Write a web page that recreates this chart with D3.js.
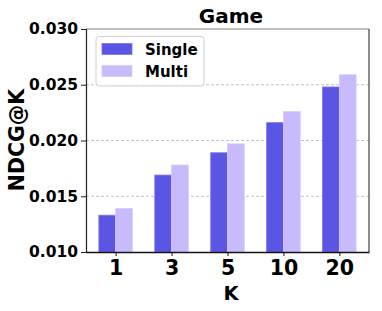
<!DOCTYPE html>
<html><head><meta charset="utf-8">
<script src="https://cdn.jsdelivr.net/npm/d3@7/dist/d3.min.js"></script>
<style>body{margin:0;background:#fff}svg{display:block}text{font-family:"DejaVu Sans",sans-serif;font-weight:bold}</style>
</head><body>
<script>
const categories = ["1","3","5","10","20"];
const singleValues = [0.0133,0.0169,0.0189,0.0216,0.0248];
const multiValues = [0.0139,0.0178,0.0197,0.0226,0.0259];
const seriesNames = ["Single","Multi"];
const yTicks = [0.010,0.015,0.020,0.025,0.030];
const colors = ["#5B55E4","#C8BAFC"];
const title = "Game", xLabel = "K", yLabel = "NDCG@K";

const W=382,H=311;
const m={left:86,right:369,top:29,bottom:252};
const svg=d3.select("body").append("svg").attr("width",W).attr("height",H);

const x=d3.scaleLinear().domain([-0.53,4.53]).range([m.left,m.right]);
const y=d3.scaleLinear().domain([0.010,0.030]).range([m.bottom,m.top]);
const bw=0.3;

// grid
svg.append("g").selectAll("line").data(yTicks.filter(t=>t>0.0101&&t<0.0299)).join("line")
  .attr("x1",m.left).attr("x2",m.right).attr("y1",d=>y(d)).attr("y2",d=>y(d))
  .attr("stroke","#b5b5b5").attr("stroke-width",0.8).attr("stroke-dasharray","3,2");

const series=[singleValues,multiValues];
series.forEach((vals,si)=>{
  svg.append("g").selectAll("rect").data(vals).join("rect")
    .attr("x",(d,i)=>x(i+(si===0?-bw:0)))
    .attr("width",x(bw)-x(0))
    .attr("y",d=>y(d)).attr("height",d=>y(0.010)-y(d))
    .attr("fill",colors[si])
    .attr("stroke",si===0?"#7a74ec":"#d6ccfd").attr("stroke-width",0.8);
});

// spines
svg.append("line").attr("x1",m.left).attr("x2",m.right).attr("y1",m.top).attr("y2",m.top).attr("stroke","#808080").attr("stroke-width",1.2);
svg.append("line").attr("x1",m.right).attr("x2",m.right).attr("y1",m.top).attr("y2",m.bottom).attr("stroke","#404040").attr("stroke-width",1.2);

// axes
const yAxis=svg.append("g").attr("transform",`translate(${m.left},0)`)
  .call(d3.axisLeft(y).tickValues(yTicks).tickFormat(d3.format(".3f")).tickSize(5).tickPadding(3));
yAxis.selectAll("text").style("font-size","15.5px").attr("fill","#000");
yAxis.select(".domain").attr("stroke","#222").attr("stroke-width",1.2);
yAxis.selectAll(".tick line").attr("stroke","#222");

const xAxis=svg.append("g").attr("transform",`translate(0,${m.bottom})`)
  .call(d3.axisBottom(x).tickValues(d3.range(categories.length)).tickFormat(i=>categories[i]).tickSize(4).tickSizeOuter(0).tickPadding(4));
xAxis.selectAll("text").style("font-size","20.5px").attr("fill","#000");
xAxis.select(".domain").attr("stroke","#111").attr("stroke-width",1.4);
xAxis.selectAll(".tick line").attr("stroke","#111");

svg.append("text").attr("x",231).attr("y",23).attr("text-anchor","middle").style("font-size","20px").text(title);
svg.append("text").attr("x",231).attr("y",300).attr("text-anchor","middle").style("font-size","19.5px").text(xLabel);
svg.append("text").attr("transform","translate(24,140) rotate(-90)").attr("text-anchor","middle").style("font-size","20.5px").text(yLabel);

// legend
const lg=svg.append("g");
lg.append("rect").attr("x",96).attr("y",36.5).attr("width",108).attr("height",49.5).attr("rx",3)
  .attr("fill","#fff").attr("fill-opacity",0.8).attr("stroke","#d0d0d0").attr("stroke-width",1);
seriesNames.forEach((n,i)=>{
  lg.append("rect").attr("x",102).attr("y",43.5+i*22).attr("width",30).attr("height",11)
    .attr("fill",colors[i]).attr("stroke",i===0?"#7a74ec":"#d6ccfd").attr("stroke-width",0.8);
  lg.append("text").attr("x",145).attr("y",55+i*22).style("font-size","15px").text(n);
});
</script>
</body></html>
